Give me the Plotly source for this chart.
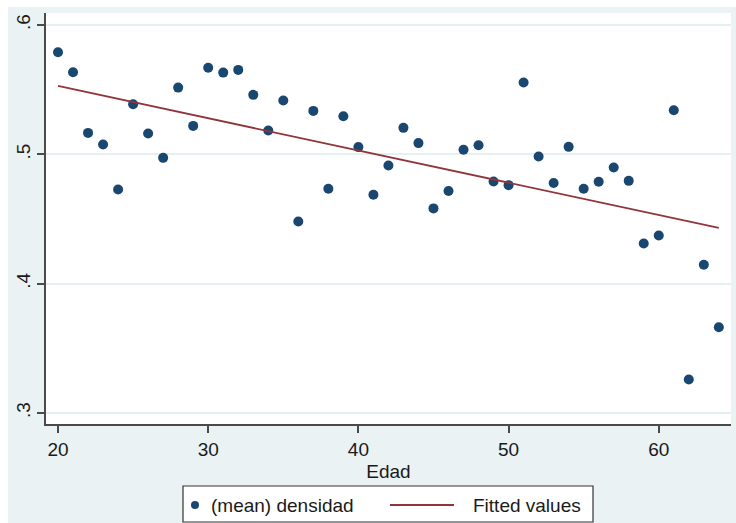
import numpy as np
import plotly.graph_objects as go

# Mean density by age
edad = list(range(20, 65))
densidad = [
    0.579, 0.5635, 0.5166, 0.5076, 0.4728, 0.5388, 0.5161, 0.4973, 0.5516, 0.522,
    0.567, 0.5632, 0.5653, 0.546, 0.5184, 0.5416, 0.4481, 0.5336, 0.4734, 0.5295,
    0.5056, 0.4687, 0.4914, 0.5205, 0.5087, 0.4582, 0.4716, 0.5035, 0.5071, 0.479,
    0.4762, 0.5555, 0.4983, 0.4778, 0.5058, 0.4734, 0.4788, 0.4898, 0.4795, 0.4311,
    0.4373, 0.5341, 0.3259, 0.4147, 0.3663,
]
x_ticks = [20, 30, 40, 50, 60]
y_ticks = [0.3, 0.4, 0.5, 0.6]
y_tick_text = [".3", ".4", ".5", ".6"]

# Linear fit of density on age
slope, intercept = np.polyfit(edad, densidad, 1)
fitted = [intercept + slope * a for a in edad]

W, H = 736, 523
L, R, T, B = 46, 5, 13, 99
PW, PH = W - L - R, H - T - B


def px_x(px):
    return (px - L) / PW


def px_y(py):
    return (H - B - py) / PH


NAVY = "#1A476F"
MAROON = "#90353B"
BG = "#EAF2F3"
AXIS = "#4a4a4a"
FONT = "Liberation Sans, Arial, sans-serif"
FS = 19
LEG_Y = 505

fig = go.Figure()
fig.add_trace(go.Scatter(
    x=edad, y=densidad, mode="markers", name="(mean) densidad",
    marker=dict(size=10, color=NAVY, line=dict(width=0)), showlegend=False,
))
fig.add_trace(go.Scatter(
    x=edad, y=fitted, mode="lines", name="Fitted values",
    line=dict(color=MAROON, width=1.8), showlegend=False,
))

shapes = [
    # thin white strips along the top and left edges
    dict(type="rect", xref="paper", yref="paper", x0=px_x(0), x1=px_x(W),
         y0=px_y(7), y1=px_y(0), fillcolor="white", line=dict(width=0), layer="below"),
    dict(type="rect", xref="paper", yref="paper", x0=px_x(0), x1=px_x(8),
         y0=px_y(H), y1=px_y(0), fillcolor="white", line=dict(width=0), layer="below"),
    # legend box
    dict(type="rect", xref="paper", yref="paper", x0=px_x(183), x1=px_x(593),
         y0=px_y(522), y1=px_y(486), fillcolor="white", line=dict(color="#333333", width=1.2)),
    # legend marker
    dict(type="circle", xref="paper", yref="paper", x0=px_x(191), x1=px_x(199),
         y0=px_y(LEG_Y + 4), y1=px_y(LEG_Y - 4), fillcolor=NAVY, line=dict(width=0)),
    # legend line
    dict(type="line", xref="paper", yref="paper", x0=px_x(390), x1=px_x(454),
         y0=px_y(LEG_Y), y1=px_y(LEG_Y), line=dict(color=MAROON, width=1.8)),
]

annotations = [
    dict(text="(mean) densidad", xref="paper", yref="paper", x=px_x(209), y=px_y(LEG_Y),
         xanchor="left", yanchor="middle", showarrow=False,
         font=dict(family=FONT, size=FS, color="#1a1a1a")),
    dict(text="Fitted values", xref="paper", yref="paper", x=px_x(471), y=px_y(LEG_Y),
         xanchor="left", yanchor="middle", showarrow=False,
         font=dict(family=FONT, size=FS, color="#1a1a1a")),
]

fig.update_layout(
    width=W, height=H,
    margin=dict(l=L, r=R, t=T, b=B, pad=0),
    paper_bgcolor=BG, plot_bgcolor="white",
    font=dict(family=FONT, size=FS, color="#1a1a1a"),
    shapes=shapes, annotations=annotations,
    showlegend=False,
    xaxis=dict(
        range=[19.2, 64.81], tickvals=x_ticks, ticks="outside", ticklen=7,
        tickwidth=1.5, tickcolor=AXIS, showline=True, linecolor=AXIS, linewidth=1.5,
        showgrid=False, zeroline=False,
        title=dict(text="Edad", standoff=6, font=dict(family=FONT, size=FS)),
    ),
    yaxis=dict(
        range=[0.2915, 0.6093], tickvals=y_ticks, ticktext=y_tick_text,
        tickangle=-90, ticks="outside", ticklen=7, tickwidth=1.5, tickcolor=AXIS,
        showline=True, linecolor=AXIS, linewidth=1.5,
        showgrid=True, gridcolor="#E6EFF1", gridwidth=1.5, zeroline=False,
    ),
)

fig.write_html("out.html")
